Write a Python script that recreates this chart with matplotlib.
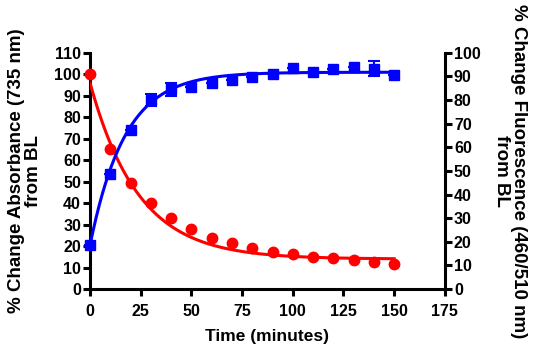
import numpy as np
import matplotlib
matplotlib.use('Agg')
import matplotlib.pyplot as plt

plt.rcParams['font.family'] = ['Liberation Sans', 'DejaVu Sans']
plt.rcParams['font.weight'] = 'bold'

# time points (minutes)
time = [0, 10, 20, 30, 40, 50, 60, 70, 80, 90, 100, 110, 120, 130, 140, 150]

# absorbance, % change from BL (left axis)
absorb = [100, 65, 49.5, 40, 33, 28, 24, 21.5, 19, 17.2, 16.3, 15, 14.3, 13.4, 12.7, 11.7]

# fluorescence, % change from BL (right axis)
fluor = [18.6, 48.6, 67.3, 80, 84.5, 85.5, 87.3, 88.6, 89.7, 91.1, 93.5, 92.1, 93.3, 94, 93.3, 90.7]
fluor_err = [0, 0, 0, 2.7, 2.7, 0, 0, 0, 0, 0, 0, 0, 0, 0, 3.2, 0]

# one-phase fits
abs_plateau, abs_span, abs_k = 14.0, 82.0, 0.042
flu_y0, flu_plateau, flu_k = 18.6, 91.8, 0.058

t_fit = np.linspace(0, 150, 300)
abs_fit = abs_plateau + abs_span * np.exp(-abs_k * t_fit)
flu_fit = flu_y0 + (flu_plateau - flu_y0) * (1 - np.exp(-flu_k * t_fit))

fig = plt.figure(figsize=(5.36, 3.5), dpi=100)
ax1 = fig.add_axes([0.168, 0.174, 0.662, 0.675])
ax2 = ax1.twinx()

ax1.plot(t_fit, abs_fit, color='red', lw=2.2, zorder=3)
ax1.plot(time, absorb, 'o', color='red', ms=7.5, zorder=4, clip_on=False)

ax2.plot(t_fit, flu_fit, color='blue', lw=2.2, zorder=3)
ax2.errorbar(time, fluor, yerr=fluor_err, fmt='s', color='blue', ms=7,
             capsize=4, elinewidth=1.5, capthick=1.5, zorder=4, clip_on=False)

ax1.set_xlim(0, 175)
ax1.set_ylim(0, 110)
ax2.set_ylim(0, 100)
ax1.set_xticks(np.arange(0, 176, 25))
ax1.set_yticks(np.arange(0, 111, 10))
ax2.set_yticks(np.arange(0, 101, 10))

for ax in (ax1, ax2):
    ax.spines['top'].set_visible(False)
    for s in ax.spines.values():
        s.set_linewidth(2.2)
    ax.tick_params(width=2.2, length=5, labelsize=11.5, pad=1.5)
ax1.spines['right'].set_visible(False)
ax2.spines['left'].set_visible(False)
ax2.spines['bottom'].set_visible(False)
ax1.tick_params(axis='x', pad=6)

ax1.set_xlabel('Time (minutes)', fontsize=12.5, fontweight='bold', labelpad=7)
fig.text(25 / 536, 1 - 171 / 350, '% Change Absorbance (735 nm)\nfrom BL',
         fontsize=13.5, fontweight='bold', rotation=90, ha='center',
         va='center', multialignment='center', linespacing=1.05)
fig.text(510 / 536, 1 - 171 / 350, '% Change Fluorescence (460/510 nm)\nfrom BL',
         fontsize=13.5, fontweight='bold', rotation=270, ha='center',
         va='center', multialignment='center', linespacing=1.05)

fig.savefig('out.png', dpi=100)
